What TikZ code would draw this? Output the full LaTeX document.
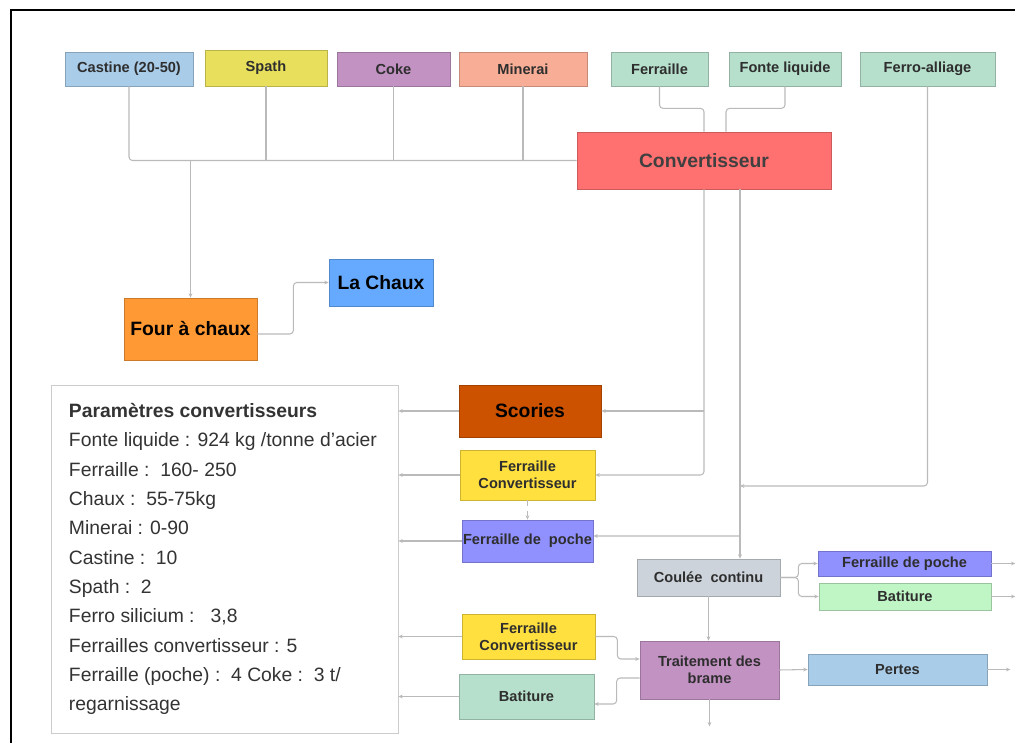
\documentclass[tikz,border=0pt]{standalone}
\usepackage{fontspec}
\setmainfont{Liberation Sans}
\usetikzlibrary{arrows.meta,positioning,calc}

\definecolor{bleuclair}{HTML}{A9CCE9}
\definecolor{jaunespath}{HTML}{E8E05C}
\definecolor{violet}{HTML}{C292C2}
\definecolor{saumon}{HTML}{F8AE96}
\definecolor{menthe}{HTML}{B6DFCC}
\definecolor{rouge}{HTML}{FF7070}
\definecolor{orange}{HTML}{FF9933}
\definecolor{bleuchaux}{HTML}{66AAFF}
\definecolor{scorie}{HTML}{CC5200}
\definecolor{jaune}{HTML}{FFE03F}
\definecolor{poche}{HTML}{9090FF}
\definecolor{grisclair}{HTML}{CDD3DA}
\definecolor{vertclair}{HTML}{C0F5C6}

\begin{document}
\begin{tikzpicture}[x=0.02cm,y=-0.02cm,
    wh/.style 2 args={minimum width=#1*0.02cm, minimum height=#2*0.02cm},
    box/.style={draw=#1!80!black, fill=#1, inner sep=0pt, align=center,
      text=black!82, font=\fontsize{8.3}{9.6}\selectfont\bfseries},
    bigbox/.style={box=#1, font=\fontsize{11}{13}\selectfont\bfseries},
    link/.style={draw=black!27, line width=0.6pt, rounded corners=2pt},
    flow/.style={link, -{Stealth[length=2.5pt,width=2.2pt]}}]
   \useasboundingbox (0,0) rectangle (1015,743);
   \draw[line width=1.2pt] (11,743) -- (11,10) -- (1015,10);

   % matieres premieres
   \node[box=bleuclair, wh={128}{34}] (castine) at (129,69) {Castine (20-50)};
   \node[box=jaunespath, wh={122}{36}] (spath) at (266,68) {Spath};
   \node[box=violet, wh={113}{34}] (coke) at (393.5,69) {Coke};
   \node[box=saumon, wh={128}{34}] (minerai) at (523,69) {Minerai};
   \node[box=menthe, wh={97}{34}] (ferraille) at (659.5,69) {Ferraille};
   \node[box=menthe, wh={112}{34}] (fonte) at (785,69) {Fonte liquide};
   \node[box=menthe, wh={135}{34}] (ferro) at (927.5,69) {Ferro-alliage};

   \node[bigbox=rouge, wh={254}{57}, text=black!75] (conv) at (704,160.5) {Convertisseur};
   \node[bigbox=orange, wh={133}{62}, text=black] (four) at (190.5,329) {Four à chaux};
   \node[bigbox=bleuchaux, wh={104}{47}, text=black] (chaux) at (381,282.5) {La Chaux};

   \node[draw=black!20, fill=white, wh={347}{348}] (param) at (224.5,559) {};
   \node[anchor=west, align=left, inner sep=0pt, text=black!80,
     font=\fontsize{11}{16.7}\selectfont] (paramtxt) at ([xshift=0.36cm]param.west)
     {\textbf{Paramètres convertisseurs}\\
      Fonte liquide : 924 kg /tonne d’acier\\
      Ferraille :\ \ 160- 250\\
      Chaux :\ \ 55-75kg\\
      Minerai : 0-90\\
      Castine :\ \ 10\\
      Spath :\ \ 2\\
      Ferro silicium :\ \ \ 3,8\\
      Ferrailles convertisseur : 5\\
      Ferraille (poche) :\ \ 4 Coke :\ \ 3 t/\\
      regarnissage};

   % produits
   \node[bigbox=scorie, wh={142}{52}, text=black] (scories) at (530,411) {Scories};
   \node[box=jaune, wh={135}{50}] (fc1) at (527.5,475) {Ferraille\\Convertisseur};
   \node[box=poche, wh={131}{42}] (fp1) at (527.5,541) {Ferraille de\ \ poche};
   \node[box=grisclair, wh={143}{37}] (coulee) at (708.5,577.5) {Coulée\ \ continu};
   \node[box=poche, wh={173}{25}] (fp2) at (904.5,563.5) {Ferraille de poche};
   \node[box=vertclair, wh={172}{27}] (bat1) at (905,596.5) {Batiture};
   \node[box=jaune, wh={133}{45}] (fc2) at (528.5,636.5) {Ferraille\\Convertisseur};
   \node[box=menthe, wh={135}{45}] (bat2) at (526.5,696.5) {Batiture};
   \node[box=violet, wh={139}{58}] (trait) at (709.5,670) {Traitement des\\brame};
   \node[box=bleuclair, wh={179}{31}] (pertes) at (897.5,669.5) {Pertes};

   \coordinate (c2) at ([xshift=0.72cm]conv.south);
   \coordinate (out1) at ([xshift=0.48cm]fp2.east);
   \coordinate (out2) at ([xshift=0.48cm]bat1.east);
   \coordinate (out3) at ([xshift=0.46cm]pertes.east);
   \coordinate (out4) at ([yshift=-0.54cm]trait.south);

   % entrees
   \draw[link] (castine.south) |- (conv.west);
   \foreach \n in {spath,coke,minerai}
     \draw[link] (\n.south) -- (\n.south |- conv.west);
   \draw[flow] (four.north |- conv.west) -- (four.north);
   \draw[link] (ferraille.south) -- ++(0,22) -| (conv.north);
   \draw[link] (fonte.south) -- ++(0,22) -| ([xshift=0.44cm]conv.north);
   \draw[flow] ([yshift=-0.1cm]four.east) -- ++(36,0) |- (chaux.west);

   % sorties du convertisseur
   \draw[flow] (conv.south) |- (fc1.east);
   \draw[flow] (conv.south |- scories.east) -- (scories.east);
   \draw[flow] (c2) -- (c2 |- coulee.north);
   \draw[flow] (ferro.south) |- (c2 |- 0,486);
   \draw[flow] (c2 |- 0,536) -- ([yshift=0.1cm]fp1.east);
   \draw[flow, dashed] (fc1.south) -- (fp1.north);

   % vers les parametres
   \foreach \n in {scories,fc1,fp1,fc2,bat2}
     \draw[flow] (\n.west) -- (\n.west -| param.east);

   % coulee et traitement
   \draw[flow] (coulee.east) -- ++(18,0) |- (fp2.west);
   \draw[flow] (coulee.east) -- ++(18,0) |- (bat1.west);
   \draw[flow] (coulee.south) -- (coulee.south |- trait.north);
   \draw[flow] (fc2.east) -- ++(22,0) |- ([yshift=0.22cm]trait.west);
   \draw[flow] ([yshift=-0.16cm]trait.west) -- ++(-23,0) |- ([yshift=-0.15cm]bat2.east);
   \draw[flow] (trait.east) -- (pertes.west);
   \draw[flow] (fp2.east) -- (out1);
   \draw[flow] (bat1.east) -- (out2);
   \draw[flow] (pertes.east) -- (out3);
   \draw[flow] (trait.south) -- (out4);
\end{tikzpicture}
\end{document}
